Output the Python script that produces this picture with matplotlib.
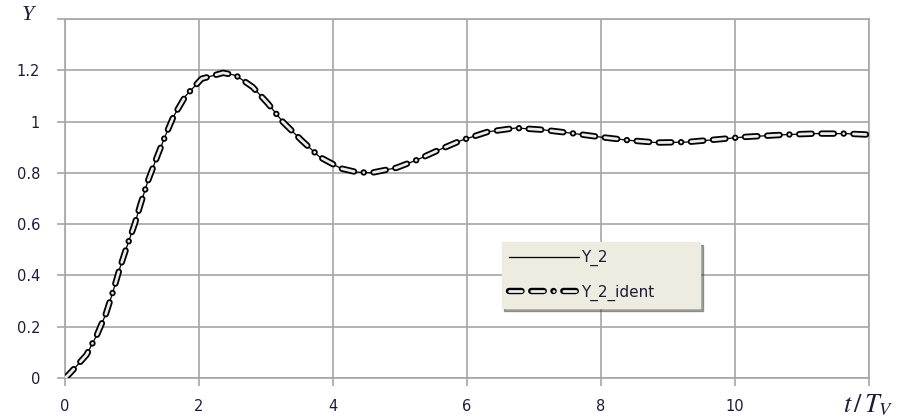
import matplotlib
matplotlib.use("Agg")
import matplotlib.pyplot as plt
import matplotlib.patheffects as pe

plt.rcParams['lines.scale_dashes'] = False
plt.rcParams['mathtext.fontset'] = 'stix'

t = [0, 0.05, 0.15, 0.32, 0.48, 0.61, 0.72, 0.82, 0.92, 1.04, 1.13, 1.24, 1.37, 1.49,
     1.62, 1.80, 2.04, 2.36, 2.55, 2.80, 3.03, 3.25, 3.53, 3.80, 4.12, 4.35, 4.57, 4.95,
     5.25, 5.57, 5.92, 6.31, 6.73, 7.13, 7.55, 7.98, 8.41, 8.83, 9.28, 9.72, 10.14,
     10.76, 11.2, 11.65, 12.0]
y2 = [0, 0.012, 0.04, 0.09, 0.17, 0.25, 0.34, 0.43, 0.51, 0.60, 0.68, 0.77, 0.86, 0.94,
      1.02, 1.10, 1.167, 1.19, 1.18, 1.135, 1.07, 0.999, 0.927, 0.862, 0.817, 0.803, 0.80,
      0.82, 0.85, 0.888, 0.927, 0.96, 0.975, 0.968, 0.955, 0.94, 0.927, 0.918, 0.92, 0.93,
      0.94, 0.949, 0.953, 0.953, 0.949]
y2_ident = list(y2)

xticks = [0, 2, 4, 6, 8, 10, 12]
xticklabels = ['0', '2', '4', '6', '8', '10', '']
yticks = [0, 0.2, 0.4, 0.6, 0.8, 1.0, 1.2, 1.4]
yticklabels = ['0', '0.2', '0.4', '0.6', '0.8', '1', '1.2', '']

grid_c = '#a6a6a6'
text_c = '#1c1c38'

fig = plt.figure(figsize=(9.03, 4.20), dpi=100)
ax = fig.add_axes([0.072, 0.1, 0.8903, 0.8548])

ax.plot(t, y2, color='black', lw=0.9, label='Y_2', zorder=3)
ax.plot(t, y2_ident, color='#ececec', lw=2.0,
        linestyle=(0, (9.0, 7.0, 9.0, 7.0, 0.1, 7.0)), dash_capstyle='round',
        path_effects=[pe.Stroke(linewidth=4.6, foreground='black'), pe.Normal()],
        label='Y_2_ident', zorder=4)

ax.set_xlim(0, 12)
ax.set_ylim(0, 1.4)
ax.set_xticks(xticks)
ax.set_xticklabels(xticklabels)
ax.set_yticks(yticks)
ax.set_yticklabels(yticklabels)
ax.grid(True, color=grid_c, lw=1.2)
ax.set_axisbelow(True)
for s in ax.spines.values():
    s.set_color(grid_c)
    s.set_linewidth(1.2)
ax.tick_params(axis='both', colors=grid_c, length=6, width=1.2, labelsize=10.5,
               labelcolor=text_c)
ax.tick_params(axis='y', pad=12)
ax.tick_params(axis='x', pad=9)

fig.text(28 / 903, 1 - 15 / 420, 'Y', fontsize=16, family='Liberation Serif',
         style='italic', ha='center', va='center', color=text_c)
fig.text(868 / 903, 1 - 405 / 420, r'$t\,/\,T_V$', fontsize=19, ha='center',
         va='center', color=text_c)

leg = ax.legend(loc='upper left', bbox_to_anchor=(0.543, 0.191, 0.247, 0.187),
                mode='expand', fontsize=11, handlelength=4.6, handletextpad=0.1,
                labelspacing=1.2, borderpad=0.5, borderaxespad=0, fancybox=False,
                shadow=True, framealpha=1, facecolor='#eeebe0', edgecolor='#eeebe0')
for txt in leg.get_texts():
    txt.set_color(text_c)

fig.savefig('out.png', dpi=100, facecolor='white')
